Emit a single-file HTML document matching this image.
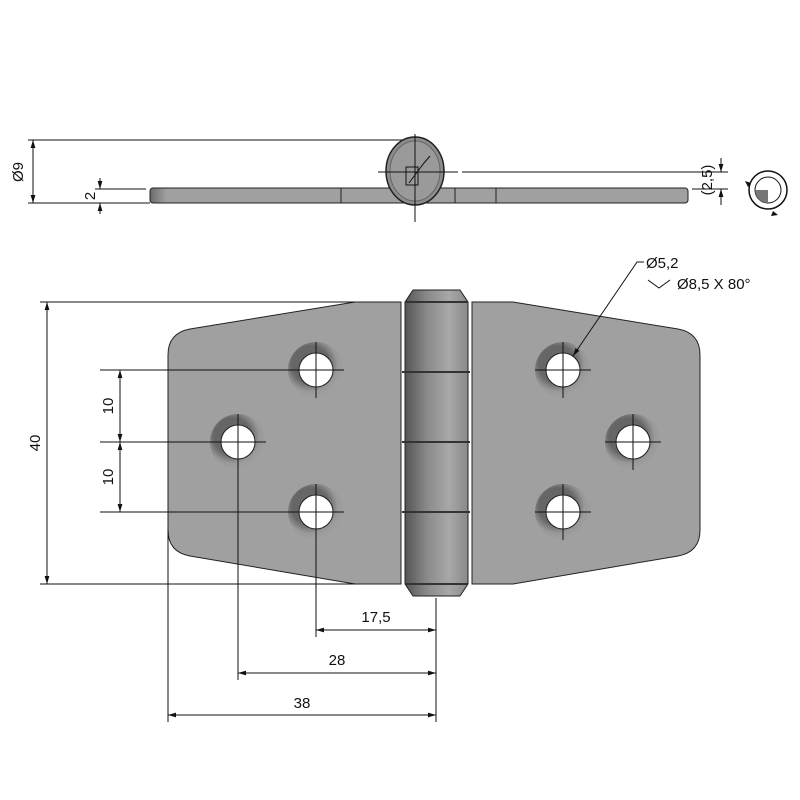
<!DOCTYPE html>
<html><head><meta charset="utf-8"><style>
html,body{margin:0;padding:0;background:#fff;width:800px;height:800px;overflow:hidden}
text{font-family:"Liberation Sans",sans-serif;font-size:15px;fill:#111}
</style></head><body>
<svg width="800" height="800" viewBox="0 0 800 800" xmlns="http://www.w3.org/2000/svg">
<defs>
<linearGradient id="kn" x1="0" x2="1" y1="0" y2="0">
<stop offset="0" stop-color="#555"/><stop offset="0.35" stop-color="#8a8a8a"/><stop offset="0.7" stop-color="#a8a8a8"/><stop offset="1" stop-color="#8a8a8a"/></linearGradient>
<radialGradient id="cs" cx="0.4" cy="0.4" r="0.6">
<stop offset="0.55" stop-color="#666"/><stop offset="0.8" stop-color="#999"/><stop offset="1" stop-color="#a0a0a0"/></radialGradient>
<linearGradient id="pl" x1="0" x2="1" y1="0" y2="0"><stop offset="0" stop-color="#6a6a6a"/><stop offset="0.03" stop-color="#a0a0a0"/><stop offset="1" stop-color="#a0a0a0"/></linearGradient>
<marker id="ar" viewBox="0 0 10 10" refX="10" refY="5" markerWidth="8" markerHeight="8" orient="auto-start-reverse"><path d="M0,2 L10,5 L0,8 z" fill="#111"/></marker>
</defs>
<g stroke="#111" stroke-width="1" fill="none">
<line x1="28" y1="140" x2="414" y2="140"/>
<line x1="28" y1="203" x2="150" y2="203"/>
<line x1="33" y1="140" x2="33" y2="203" marker-start="url(#ar)" marker-end="url(#ar)"/>
<line x1="95" y1="189" x2="146" y2="189"/>
<line x1="95" y1="203" x2="146" y2="203"/>
<line x1="100" y1="178" x2="100" y2="189" marker-end="url(#ar)"/>
<line x1="100" y1="214" x2="100" y2="203" marker-end="url(#ar)"/>
<line x1="462" y1="172" x2="728" y2="172"/>
<line x1="692" y1="189" x2="728" y2="189"/>
<line x1="721" y1="158" x2="721" y2="172" marker-end="url(#ar)"/>
<line x1="721" y1="205" x2="721" y2="189" marker-end="url(#ar)"/>
</g>
<rect x="150" y="188" width="538" height="15" rx="3" fill="url(#pl)" stroke="#222"/>
<g stroke="#222"><line x1="341" y1="188" x2="341" y2="203"/><line x1="455" y1="188" x2="455" y2="203"/><line x1="496" y1="188" x2="496" y2="203"/></g>
<ellipse cx="415" cy="171" rx="29" ry="34" fill="#8c8c8c" stroke="#222" stroke-width="1.5"/>
<ellipse cx="415" cy="171" rx="25" ry="30" fill="#9a9a9a" stroke="#666"/>
<g stroke="#111" fill="none"><line x1="378" y1="172" x2="458" y2="172"/><line x1="415" y1="134" x2="415" y2="222"/>
<rect x="406" y="167" width="12" height="18"/><path d="M409,183 L424,163 L430,156"/></g>
<g transform="translate(768,190)"><circle r="19" fill="none" stroke="#111" stroke-width="1.5"/><circle r="13" fill="#fff" stroke="#111"/><path d="M0,0 L0,13 A13,13 0 0 1 -13,0 Z" fill="#777"/>
<path d="M-20,-3 l-3,-6 l6,2 z" fill="#111"/><path d="M5,21 l5,4 l-7,1 z" fill="#111"/></g>
<text transform="translate(23,172) rotate(-90)" text-anchor="middle">Ø9</text>
<text transform="translate(95,196) rotate(-90)" text-anchor="middle">2</text>
<text transform="translate(712,180) rotate(-90)" text-anchor="middle">(2,5)</text>
<path d="M355,302 L401,302 L401,584 L355,584 L190,556 Q168,552 168,530 L168,355 Q168,333 190,329 Z" fill="#a0a0a0" stroke="#222"/>
<path d="M472,302 L513,302 L678,329 Q700,333 700,355 L700,530 Q700,552 678,556 L513,584 L472,584 Z" fill="#a0a0a0" stroke="#222"/>
<path d="M413,290 L460,290 L468,302 L468,584 L460,596 L413,596 L405,584 L405,302 Z" fill="url(#kn)" stroke="#222"/>
<g stroke="#333" stroke-width="2"><line x1="405" y1="302" x2="468" y2="302"/><line x1="405" y1="584" x2="468" y2="584"/>
<line x1="402" y1="372" x2="470" y2="372"/><line x1="402" y1="442" x2="470" y2="442"/><line x1="402" y1="512" x2="470" y2="512"/></g>
<g stroke="#fff" stroke-width="2" fill="none"><path d="M403,303 V370 M403,444 V510 M470,374 V440 M470,514 V583"/></g>
<g>
<circle cx="316" cy="370" r="28" fill="url(#cs)"/><circle cx="316" cy="370" r="17" fill="#fff" stroke="#222"/>
<circle cx="238" cy="442" r="28" fill="url(#cs)"/><circle cx="238" cy="442" r="17" fill="#fff" stroke="#222"/>
<circle cx="316" cy="512" r="28" fill="url(#cs)"/><circle cx="316" cy="512" r="17" fill="#fff" stroke="#222"/>
<circle cx="563" cy="370" r="28" fill="url(#cs)"/><circle cx="563" cy="370" r="17" fill="#fff" stroke="#222"/>
<circle cx="633" cy="442" r="28" fill="url(#cs)"/><circle cx="633" cy="442" r="17" fill="#fff" stroke="#222"/>
<circle cx="563" cy="512" r="28" fill="url(#cs)"/><circle cx="563" cy="512" r="17" fill="#fff" stroke="#222"/>
</g>
<g stroke="#111" stroke-width="1" fill="none">
<path d="M288,370h56M316,342v56M210,442h56M238,414v56M288,512h56M316,484v56M535,370h56M563,342v56M605,442h56M633,414v56M535,512h56M563,484v56"/>
<line x1="40" y1="302" x2="355" y2="302"/>
<line x1="40" y1="584" x2="355" y2="584"/>
<line x1="47" y1="302" x2="47" y2="584" marker-start="url(#ar)" marker-end="url(#ar)"/>
<line x1="100" y1="370" x2="316" y2="370"/>
<line x1="100" y1="442" x2="238" y2="442"/>
<line x1="100" y1="512" x2="316" y2="512"/>
<line x1="120" y1="370" x2="120" y2="442" marker-start="url(#ar)" marker-end="url(#ar)"/>
<line x1="120" y1="442" x2="120" y2="512" marker-start="url(#ar)" marker-end="url(#ar)"/>
<line x1="168" y1="530" x2="168" y2="722"/>
<line x1="238" y1="442" x2="238" y2="680"/>
<line x1="316" y1="512" x2="316" y2="637"/>
<line x1="436" y1="598" x2="436" y2="722"/>
<line x1="316" y1="630" x2="436" y2="630" marker-start="url(#ar)" marker-end="url(#ar)"/>
<line x1="238" y1="673" x2="436" y2="673" marker-start="url(#ar)" marker-end="url(#ar)"/>
<line x1="168" y1="715" x2="436" y2="715" marker-start="url(#ar)" marker-end="url(#ar)"/>
<path d="M573,356 L637,262 L644,262" marker-start="url(#ar)"/>
<path d="M648,280 L659,288 L670,280"/>
</g>
<text transform="translate(40,443) rotate(-90)" text-anchor="middle">40</text>
<text transform="translate(113,406) rotate(-90)" text-anchor="middle">10</text>
<text transform="translate(113,477) rotate(-90)" text-anchor="middle">10</text>
<text x="376" y="622" text-anchor="middle">17,5</text>
<text x="337" y="665" text-anchor="middle">28</text>
<text x="302" y="708" text-anchor="middle">38</text>
<text x="646" y="268">Ø5,2</text>
<text x="677" y="289">Ø8,5 X 80°</text>
</svg>
</body></html>
